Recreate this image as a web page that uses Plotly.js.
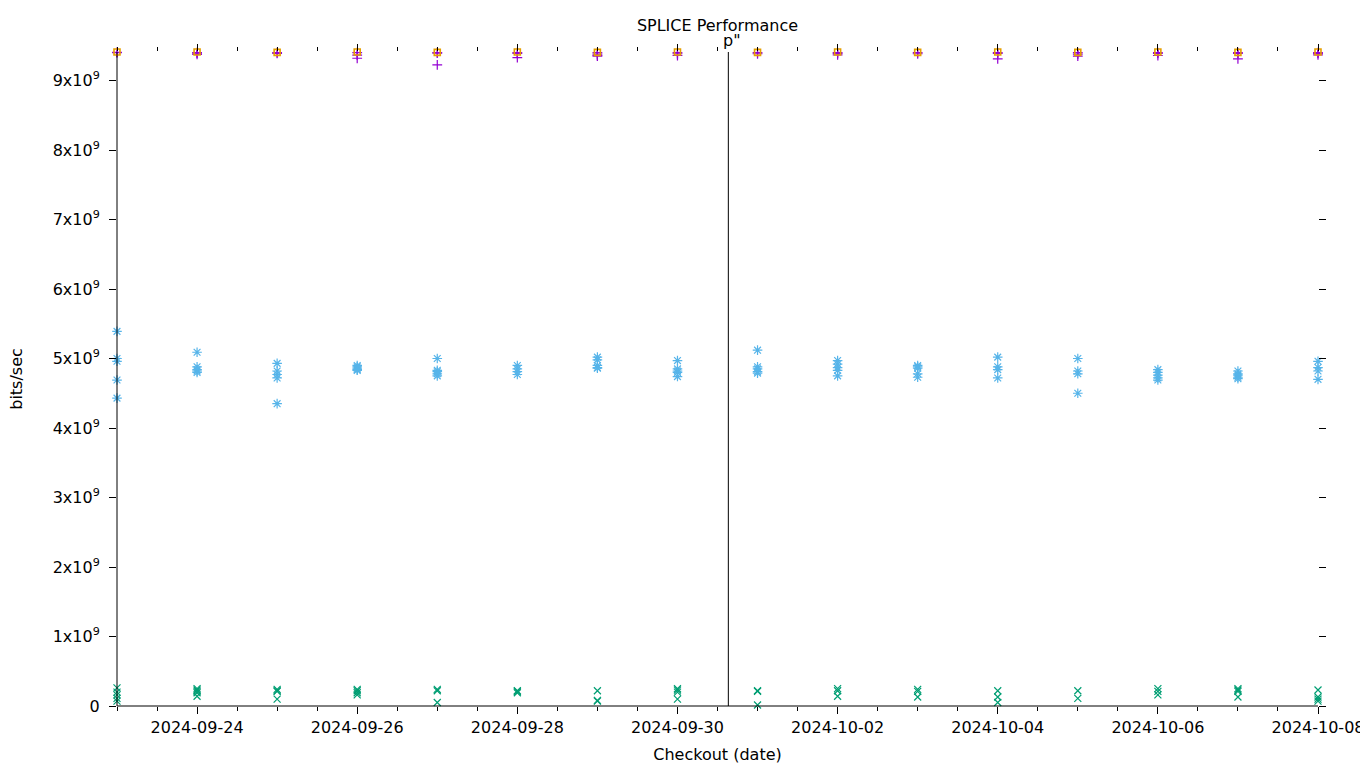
<!DOCTYPE html>
<html>
<head>
<meta charset="utf-8">
<script src="https://cdn.plot.ly/plotly-3.0.1.min.js"></script>
<style>html,body{margin:0;padding:0;background:#fff;}#chart{width:1360px;height:768px;}</style>
</head>
<body>
<div id="chart"></div>
<script>
// ---- data (values in units of 1e9 bits/sec) ----
const days = ['2024-09-23','2024-09-24','2024-09-25','2024-09-26','2024-09-27','2024-09-28','2024-09-29','2024-09-30',
              '2024-10-01','2024-10-02','2024-10-03','2024-10-04','2024-10-05','2024-10-06','2024-10-07','2024-10-08'];

const squareVals = [[9.41],[9.41],[9.405],[9.41],[9.405],[9.41],[9.405],[9.41],
                    [9.405],[9.41],[9.405],[9.41],[9.405],[9.41],[9.405],[9.41]];

const plusVals = [[9.405,9.40],[9.40,9.395,9.375],[9.40,9.39],[9.40,9.365,9.32],[9.40,9.395,9.225],[9.40,9.39,9.33],
                  [9.40,9.38,9.36,9.35],[9.40,9.385,9.36],[9.40,9.385],[9.40,9.39,9.37],[9.40,9.385],[9.40,9.39,9.31],
                  [9.40,9.38,9.35],[9.40,9.39,9.36],[9.40,9.39,9.31],[9.40,9.39,9.37]];

const starVals = [[5.39,5.00,4.96,4.69,4.43],[5.09,4.88,4.84,4.82,4.80],[4.93,4.82,4.77,4.72,4.35],[4.90,4.88,4.86,4.84,4.83],
                  [5.00,4.83,4.81,4.78,4.75],[4.90,4.85,4.81,4.77],[5.02,4.98,4.90,4.87,4.86],[4.97,4.85,4.82,4.80,4.74],
                  [5.12,4.88,4.85,4.81,4.79],[4.97,4.92,4.87,4.83,4.75],[4.90,4.88,4.86,4.78,4.73],[5.02,4.88,4.84,4.72],
                  [5.00,4.82,4.78,4.50],[4.84,4.80,4.76,4.72,4.69],[4.82,4.78,4.76,4.73,4.71],[4.96,4.87,4.82,4.70]];

const crossVals = [[0.26,0.20,0.16,0.11,0.07],[0.25,0.23,0.21,0.19,0.14],[0.24,0.22,0.21,0.10],[0.24,0.22,0.19,0.16],
                   [0.24,0.22,0.05],[0.22,0.21,0.19],[0.22,0.08,0.07],[0.25,0.23,0.20,0.10],
                   [0.22,0.21,0.015],[0.25,0.22,0.14],[0.24,0.21,0.13],[0.22,0.13,0.05],
                   [0.22,0.11],[0.25,0.21,0.16],[0.25,0.23,0.21,0.13],[0.23,0.13,0.10,0.07]];

const markerDate = '2024-09-30 15:15';
const markerLabel = 'p"';
const yTickVals = [0,1,2,3,4,5,6,7,8,9];
const yTickText = ['0','1x10<sup>9</sup>','2x10<sup>9</sup>','3x10<sup>9</sup>','4x10<sup>9</sup>','5x10<sup>9</sup>',
                   '6x10<sup>9</sup>','7x10<sup>9</sup>','8x10<sup>9</sup>','9x10<sup>9</sup>'];

function flatten(vals){
  const xs=[], ys=[];
  vals.forEach((arr,i)=>arr.forEach(v=>{xs.push(days[i]); ys.push(v*1e9);}));
  return {xs, ys};
}

const FONT = 'DejaVu Sans, sans-serif';
const sets = [
  {v: crossVals, sym:'x-thin-open', size:7, color:'#009E73', w:1.2},
  {v: starVals, sym:'asterisk-open', size:8, color:'#56B4E9', w:1.2},
  {v: plusVals, sym:'cross-thin-open', size:7, color:'#9400D3', w:1.2},
  {v: squareVals, sym:'square-open', size:6, color:'#E69F00', w:1.6}
];
const traces = sets.map(s=>{
  const f = flatten(s.v);
  return {x:f.xs, y:f.ys, type:'scatter', mode:'markers', showlegend:false, cliponaxis:false,
          marker:{symbol:s.sym, size:s.size, color:s.color, line:{color:s.color, width:s.w}}};
});

const layout = {
  width:1360, height:768,
  paper_bgcolor:'#fff', plot_bgcolor:'#fff',
  margin:{l:117, r:42, t:52, b:62},
  font:{family:FONT, size:16, color:'#000'},
  showlegend:false,
  title:{text:'SPLICE Performance', x:0.5, xref:'paper', y:0.967, yanchor:'middle', font:{family:FONT, size:16, color:'#000'}},
  xaxis:{type:'date', range:['2024-09-23','2024-10-08'], autorange:false,
         tick0:'2024-09-24', dtick:172800000, tickformat:'%Y-%m-%d',
         ticks:'outside', ticklen:7, tickwidth:1, tickcolor:'#000', ticklabeloverflow:'allow',
         minor:{dtick:43200000, ticks:'outside', ticklen:4, tickwidth:1, tickcolor:'#000', showgrid:false},
         showgrid:false, zeroline:false, showline:false, mirror:'ticks',
         tickfont:{family:FONT, size:16, color:'#000'},
         title:{text:'Checkout (date)', font:{family:FONT, size:16, color:'#000'}, standoff:12}},
  yaxis:{range:[0,9.41e9], autorange:false, tickvals:yTickVals.map(v=>v*1e9), ticktext:yTickText,
         ticks:'outside', ticklen:7, tickwidth:1, tickcolor:'#000', ticklabelstandoff:6,
         showgrid:false, zeroline:false, showline:false, mirror:'ticks',
         tickfont:{family:FONT, size:16, color:'#000'},
         title:{text:'bits/sec', font:{family:FONT, size:16, color:'#000'}, standoff:26}},
  shapes:[
    {type:'line', xref:'paper', yref:'paper', x0:0, x1:0, y0:0, y1:1, line:{color:'#000', width:1}},
    {type:'line', xref:'paper', yref:'paper', x0:0, x1:1, y0:0, y1:0, line:{color:'#000', width:1}},
    {type:'line', xref:'x', yref:'paper', x0:markerDate, x1:markerDate, y0:0, y1:1, line:{color:'#000', width:1}}
  ],
  annotations:[
    {xref:'x', yref:'paper', x:markerDate, y:1, yanchor:'bottom', yshift:0, xshift:4, xanchor:'center', showarrow:false,
     text:markerLabel, font:{family:FONT, size:16, color:'#000'}}
  ]
};

Plotly.newPlot('chart', traces, layout, {displayModeBar:false, staticPlot:true});
</script>
</body>
</html>
